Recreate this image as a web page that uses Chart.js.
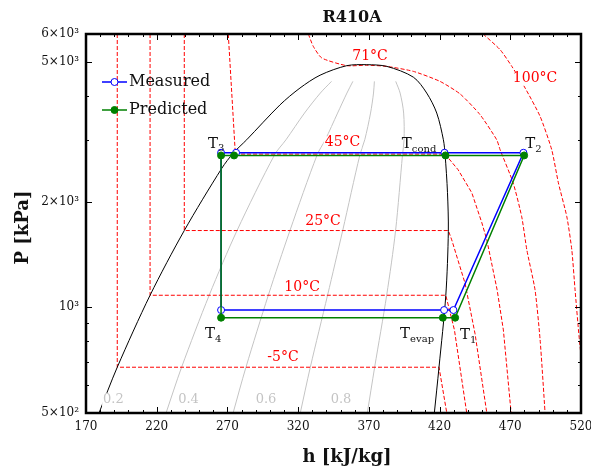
<!doctype html>
<html>
<head>
<meta charset="utf-8">
<title>R410A</title>
<script src="https://cdn.jsdelivr.net/npm/chart.js@4.4.0/dist/chart.umd.min.js"></script>
<style>
  body { margin: 0; background: #fff; }
  #wrap { width: 591px; height: 471px; }
</style>
</head>
<body>
<div id="wrap"><canvas id="canvas"></canvas></div>
<script>
// saturation dome: liquid side going up, then vapour side coming down
var domeH = [179.2, 192.1, 215.3, 239.5, 266.0, 274.2, 283.6, 307.2, 321.3, 335.5, 354.4, 368.5, 382.7, 401.5, 410.9, 418.0, 422.7, 423.9, 425.6, 426.2, 424.4, 419.6, 416.3];
var domeP = [500, 675, 1082, 1654, 2487, 2750, 2999, 3771, 4210, 4580, 4875, 4906, 4852, 4520, 4074, 3573, 2999, 2720, 2120, 1646, 1080, 675, 500];

// constant quality lines
var qualityP = [500, 675, 1082, 1654, 2720, 2999, 3573, 4074, 4398];
var q02H = [226.6, 237.6, 257.1, 276.8, 303.4, 311.4, 324.5, 335.7, 343.6];
var q04H = [274.0, 283.1, 298.9, 314.2, 333.5, 339.2, 347.9, 354.5, 358.7];
var q06H = [321.5, 328.6, 340.8, 351.5, 363.7, 367.1, 371.2, 373.3, 373.9];
var q08H = [368.9, 374.1, 382.6, 388.9, 393.8, 394.9, 394.6, 392.1, 389.0];
var qualityLabels = ['0.2', '0.4', '0.6', '0.8'];
var qualityLabelH = [189.4, 242.5, 297.3, 350.3];
var qualityLabelP = 545;

// isotherms
var isoM5H = [192.1, 192.1, 419.6, 425.1];
var isoM5P = [6000, 675, 675, 500];
var iso10H = [215.3, 215.3, 424.4, 430.5, 439.2];
var iso10P = [6000, 1082, 1082, 862, 500];
var iso25H = [239.5, 239.5, 426.2, 428.6, 438.0, 445.1, 453.4];
var iso25P = [6000, 1654, 1654, 1556, 1171, 840, 500];
var iso45H = [270.6, 275.6, 423.9, 433.1, 442.8, 449.9, 453.4, 460.7, 465.1, 470.6];
var iso45P = [6000, 2730, 2730, 2464, 2118, 1740, 1556, 1121, 862, 500];
var iso71H = [327.2, 330.7, 336.7, 354.4, 368.5, 382.7, 401.5, 420.3, 434.5, 448.6, 460.4, 462.8, 472.0, 478.1, 481.7, 487.5, 491.1, 494.6];
var iso71P = [6000, 5533, 5127, 4875, 4890, 4852, 4696, 4398, 4050, 3536, 2999, 2809, 2262, 1809, 1457, 1121, 807, 500];
var iso100H = [450.8, 462.8, 471.1, 480.5, 491.1, 499.3, 504.0, 510.0, 513.5, 515.8, 518.7, 521.5];
var iso100P = [6000, 5414, 4852, 4210, 3495, 2809, 2262, 1809, 1457, 1121, 820, 640];
var isoLabels = ['71°C', '100°C', '45°C', '25°C', '10°C', '-5°C'];
var isoLabelH = [370.8, 487.5, 351.4, 337.6, 322.8, 309.3];
var isoLabelP = [5170, 4476, 2941, 1751, 1136, 722];

// refrigeration cycle: T1 -> T2 -> Tcond -> sat. liquid -> T3 -> T4 -> Tevap -> T1
var measH = [429.8, 479.3, 423.5, 276.1, 265.5, 265.5, 423.2, 429.8];
var measP = [982, 2754, 2754, 2754, 2754, 982, 982, 982];
var predH = [431.0, 479.8, 424.2, 274.7, 265.5, 265.5, 422.3, 431.0];
var predP = [934, 2706, 2706, 2706, 2706, 934, 934, 934];
var stateSubs = ['3', 'cond', '2', '4', 'evap', '1'];
var stateH = [256.3, 393.3, 480.5, 254.2, 392.1, 434.5];
var stateP = [2850, 2840, 2840, 817, 817, 810];

// axis ticks
var xTickVals = [170, 220, 270, 320, 370, 420, 470, 520];
var yTickVals = [500, 1000, 2000, 5000, 6000];
var yTickLabels = ['5×10²', '10³', '2×10³', '5×10³', '6×10³'];
var yMinorVals = [600, 700, 800, 900, 3000, 4000];

var SERIF = '"DejaVu Serif", serif';

function pts(hs, ps) {
    return hs.map(function (h, i) {
        return { x: h, y: Array.isArray(ps) ? ps[i] : ps };
    });
}

function curve(label, hs, ps, color, dashed, tension) {
    return {
        label: label,
        data: pts(hs, ps),
        borderColor: color,
        borderWidth: 1,
        borderDash: dashed ? [4, 2] : [],
        pointRadius: 0,
        tension: tension || 0,
        fill: false,
        clip: 0
    };
}

var markerR = [3.5, 3.5, 3.5, 3.5, 3.5, 3.5, 3.5, 0];

var datasets = [
    {
        label: 'Predicted',
        data: pts(predH, predP),
        borderColor: '#008000',
        backgroundColor: '#008000',
        borderWidth: 1.5,
        pointRadius: markerR,
        pointBorderWidth: 1,
        pointBackgroundColor: '#008000',
        clip: 0
    },
    {
        label: 'Measured',
        data: pts(measH, measP),
        borderColor: '#0000ff',
        backgroundColor: '#ffffff',
        borderWidth: 1.5,
        pointRadius: markerR,
        pointBorderWidth: 1,
        pointBackgroundColor: '#ffffff',
        clip: 0
    },
    curve('dome', domeH, domeP, '#000000', false, 0.3),
    curve('-5', isoM5H, isoM5P, '#ff0000', true),
    curve('10', iso10H, iso10P, '#ff0000', true),
    curve('25', iso25H, iso25P, '#ff0000', true),
    curve('45', iso45H, iso45P, '#ff0000', true),
    curve('71', iso71H, iso71P, '#ff0000', true, 0.2),
    curve('100', iso100H, iso100P, '#ff0000', true, 0.2),
    curve('x0.2', q02H, qualityP, '#c4c4c4', false, 0.3),
    curve('x0.4', q04H, qualityP, '#c4c4c4', false, 0.3),
    curve('x0.6', q06H, qualityP, '#c4c4c4', false, 0.3),
    curve('x0.8', q08H, qualityP, '#c4c4c4', false, 0.3)
];

// labels, frame, inward ticks, legend and titles
var decor = {
    id: 'decor',
    afterDatasetsDraw: function (chart) {
        var ctx = chart.ctx, sx = chart.scales.x, sy = chart.scales.y;
        ctx.save();
        ctx.textAlign = 'center';
        ctx.textBaseline = 'middle';

        ctx.font = '14px ' + SERIF;
        isoLabels.forEach(function (t, i) {
            var px = sx.getPixelForValue(isoLabelH[i]), py = sy.getPixelForValue(isoLabelP[i]);
            var w = ctx.measureText(t).width;
            ctx.fillStyle = '#ffffff';
            ctx.fillRect(px - w / 2 - 1, py - 6.5, w + 2, 13);
            ctx.fillStyle = '#ff0000';
            ctx.fillText(t, px, py);
        });

        ctx.font = '13px ' + SERIF;
        qualityLabels.forEach(function (t, i) {
            var px = sx.getPixelForValue(qualityLabelH[i]), py = sy.getPixelForValue(qualityLabelP);
            var w = ctx.measureText(t).width;
            ctx.fillStyle = '#ffffff';
            ctx.fillRect(px - w / 2 - 1, py - 7, w + 2, 14);
            ctx.fillStyle = '#c4c4c4';
            ctx.fillText(t, px, py);
        });

        ctx.textAlign = 'left';
        ctx.textBaseline = 'alphabetic';
        ctx.fillStyle = '#111111';
        stateSubs.forEach(function (s, i) {
            var px = sx.getPixelForValue(stateH[i]), py = sy.getPixelForValue(stateP[i]);
            ctx.font = '15px ' + SERIF;
            ctx.fillText('T', px, py);
            var w = ctx.measureText('T').width;
            ctx.font = '10px ' + SERIF;
            ctx.fillText(s, px + w, py + 3.5);
        });
        ctx.restore();
    },
    afterDraw: function (chart) {
        var ctx = chart.ctx, a = chart.chartArea, sx = chart.scales.x, sy = chart.scales.y;
        ctx.save();

        // inward tick marks on all four sides
        ctx.strokeStyle = '#000000';
        ctx.lineWidth = 1;
        ctx.beginPath();
        for (var v = 170; v <= 520; v += 10) {
            var px = Math.round(sx.getPixelForValue(v)) + 0.5;
            var len = (v - 170) % 50 === 0 ? 6 : 3;
            ctx.moveTo(px, a.bottom); ctx.lineTo(px, a.bottom - len);
            ctx.moveTo(px, a.top); ctx.lineTo(px, a.top + len);
        }
        yTickVals.concat(yMinorVals).forEach(function (p) {
            var py = Math.round(sy.getPixelForValue(p)) + 0.5;
            var len = yTickVals.indexOf(p) >= 0 ? 6 : 3;
            ctx.moveTo(a.left, py); ctx.lineTo(a.left + len, py);
            ctx.moveTo(a.right, py); ctx.lineTo(a.right - len, py);
        });
        ctx.stroke();

        // frame
        ctx.lineWidth = 2.5;
        ctx.strokeRect(a.left, a.top, a.right - a.left, a.bottom - a.top);

        // legend
        var items = [
            { label: 'Measured', color: '#0000ff', fill: '#ffffff' },
            { label: 'Predicted', color: '#008000', fill: '#008000' }
        ];
        ctx.font = '16px ' + SERIF;
        ctx.textBaseline = 'middle';
        ctx.textAlign = 'left';
        items.forEach(function (it, i) {
            var ly = a.top + 48 + i * 28, lx = a.left + 16;
            ctx.strokeStyle = it.color;
            ctx.lineWidth = 1.5;
            ctx.beginPath();
            ctx.moveTo(lx, ly); ctx.lineTo(lx + 25, ly);
            ctx.stroke();
            ctx.beginPath();
            ctx.arc(lx + 12.5, ly, 3.5, 0, Math.PI * 2);
            ctx.fillStyle = it.fill;
            ctx.fill();
            ctx.lineWidth = 1;
            ctx.stroke();
            ctx.fillStyle = '#111111';
            ctx.fillText(it.label, lx + 27, ly);
        });

        // titles
        ctx.fillStyle = '#111111';
        ctx.textAlign = 'center';
        ctx.font = 'bold 16px ' + SERIF;
        ctx.fillText('R410A', 352, 18);
        ctx.font = 'bold 18px ' + SERIF;
        ctx.fillText('h [kJ/kg]', 347, 457);
        ctx.translate(23, (a.top + a.bottom) / 2 + 4);
        ctx.rotate(-Math.PI / 2);
        ctx.fillText('P [kPa]', 0, 0);
        ctx.restore();
    }
};

window.onload = function () {
    var ctx = document.getElementById('canvas').getContext('2d');
    window.phChart = new Chart(ctx, {
        type: 'line',
        data: { datasets: datasets },
        plugins: [decor],
        options: {
            responsive: true,
            maintainAspectRatio: false,
            animation: false,
            layout: { padding: { top: 34, right: 10, left: 0, bottom: 0 } },
            plugins: {
                legend: { display: false },
                title: { display: false },
                tooltip: { enabled: false }
            },
            scales: {
                x: {
                    type: 'linear',
                    min: 170,
                    max: 520,
                    grid: { display: false, drawTicks: false },
                    border: { display: false },
                    afterBuildTicks: function (s) {
                        s.ticks = xTickVals.map(function (v) { return { value: v }; });
                    },
                    afterFit: function (s) {
                        s.height = 58;
                        s.paddingLeft = 0;
                        s.paddingRight = 0;
                    },
                    ticks: {
                        font: { family: SERIF, size: 12 },
                        color: '#111111',
                        padding: 7,
                        maxRotation: 0,
                        autoSkip: false
                    }
                },
                y: {
                    type: 'logarithmic',
                    min: 500,
                    max: 6000,
                    grid: { display: false, drawTicks: false },
                    border: { display: false },
                    afterBuildTicks: function (s) {
                        s.ticks = yTickVals.map(function (v) { return { value: v }; });
                    },
                    afterFit: function (s) {
                        s.width = 86;
                    },
                    ticks: {
                        font: { family: SERIF, size: 12 },
                        color: '#111111',
                        padding: 7,
                        autoSkip: false,
                        callback: function (v) {
                            var k = yTickVals.indexOf(v);
                            return k >= 0 ? yTickLabels[k] : '';
                        }
                    }
                }
            }
        }
    });
};
</script>
</body>
</html>
